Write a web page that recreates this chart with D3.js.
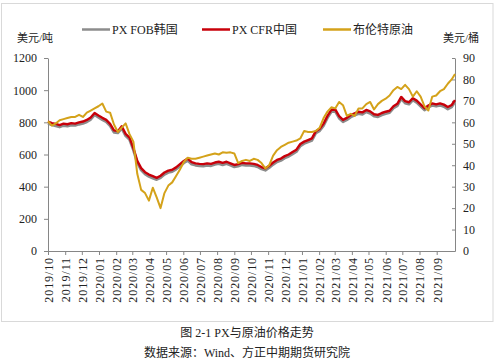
<!DOCTYPE html>
<html><head><meta charset="utf-8">
<script src="https://cdn.jsdelivr.net/npm/d3@7"></script>
<style>
html,body{margin:0;padding:0;background:#fff;}
svg{display:block;}
</style></head>
<body>
<svg id="chart" width="500" height="364"></svg>
<script>
// ---- data (weekly samples from 2019-10-01, plus final point 2021-10-04) ----
const startDate = "2019-10-01";
const endDate = "2021-10-04";
const seriesNames = ["PX FOB韩国", "PX CFR中国", "布伦特原油"];
const pxCFR = [805,795,790,783,792,788,795,792,800,805,
  815,830,858,842,828,815,790,750,745,775,
  728,705,640,560,515,490,475,465,455,468,
  488,500,505,520,540,560,575,552,545,542,
  540,545,542,550,555,548,555,545,535,540,
  548,545,545,542,535,522,514,530,550,566,
  575,590,600,615,630,665,680,690,700,745,
  760,792,840,878,880,838,815,828,845,856,
  866,862,877,868,850,846,858,866,872,900,
  915,958,932,925,950,935,912,888,905,918,
  912,918,910,895,908,938];
const pxFOB = [793,784,778,771,780,777,783,781,788,793,
  803,818,846,831,816,803,778,738,734,763,
  716,693,628,549,503,478,463,453,444,456,
  476,488,494,508,528,548,563,540,533,530,
  528,533,530,538,543,536,543,533,523,528,
  536,533,533,530,523,510,502,518,538,554,
  563,578,588,603,618,653,668,678,688,733,
  748,780,828,866,868,826,803,816,833,844,
  854,850,865,856,838,834,846,854,860,888,
  903,946,920,913,938,923,900,876,893,906,
  900,906,898,883,896,926];
const brent = [60.5,58.5,59.5,61,61.5,62,62.5,62.5,63.5,62.5,
  64.5,65.5,66.5,67.5,68.8,65,64.5,59,55.5,57.5,
  59.5,54.5,51,36,28.5,27,23.5,29.5,25,20,
  27,30.5,32,35,38,41.5,43.5,43,43,43.5,
  44,44.5,45,45.5,45,46,45.8,46,45.5,41,
  42,42.5,42,43,42.5,41,38.5,40,44.5,47,
  48.5,49.5,50.5,51,51.5,52.5,56,55.5,55.5,56,
  57.5,62,65,67,66.5,69.5,68,63,64,63,
  66.5,66.5,68.5,69.5,66,68.5,70,71,72.5,75,
  76.5,75.5,77.5,75.5,72,74.5,72,67.5,65.5,72,
  72.5,74.5,75.5,78,80,82.5];
const leftTicks = [0,200,400,600,800,1000,1200];
const rightTicks = [0,10,20,30,40,50,60,70,80,90];
const leftUnit = "美元/吨";
const rightUnit = "美元/桶";
const captionTitle = "图 2-1 PX与原油价格走势";
const captionSource = "数据来源：Wind、方正中期期货研究院";
const colors = ["#8c8c8c", "#c8000a", "#d4a21a"];

// ---- build dates ----
const t0 = d3.timeParse("%Y-%m-%d")(startDate);
const t1 = d3.timeParse("%Y-%m-%d")(endDate);
const dates = pxCFR.map((d, i) => i < pxCFR.length - 1 ? d3.timeDay.offset(t0, 7 * i) : t1);

const svg = d3.select("#chart");
const serif = "'Liberation Serif','Times New Roman','Noto Sans CJK SC',serif";

// outer frame
svg.append("rect").attr("x", 1.5).attr("y", 3.5).attr("width", 491.5).attr("height", 318)
  .attr("fill", "#fff").attr("stroke", "#d9d9d9").attr("stroke-width", 1);

const x = d3.scaleTime().domain([t0, t1]).range([48, 455]);
const yL = d3.scaleLinear().domain([0, 1200]).range([251, 58]);
const yR = d3.scaleLinear().domain([0, 90]).range([251, 58]);

// left axis
const gL = svg.append("g").attr("transform", "translate(48,0)")
  .call(d3.axisLeft(yL).tickValues(leftTicks).tickFormat(d3.format("d")).tickSize(4).tickPadding(7).tickSizeOuter(0));
// right axis (ticks inward)
const gR = svg.append("g").attr("transform", "translate(455,0)")
  .call(d3.axisLeft(yR).tickValues(rightTicks).tickFormat(d3.format("d")).tickSize(3).tickSizeOuter(0));
gR.selectAll(".tick text").attr("x", 8).attr("text-anchor", "start");
// bottom axis
const months = d3.timeMonth.range(t0, d3.timeDay.offset(d3.timeParse("%Y-%m-%d")("2021-09-01"), 1));
const gB = svg.append("g").attr("transform", "translate(0,251)")
  .call(d3.axisBottom(x).tickValues(months).tickFormat(d3.timeFormat("%Y/%m")).tickSize(4).tickSizeOuter(0));
gB.selectAll(".tick text")
  .attr("transform", "rotate(-90)")
  .attr("text-anchor", "end")
  .attr("x", -6).attr("y", 0).attr("dy", "0.36em")
  .style("letter-spacing", "0.9px");

[gL, gR, gB].forEach(g => {
  g.selectAll(".domain").attr("stroke", "#868686");
  g.selectAll(".tick line").attr("stroke", "#868686");
  g.selectAll(".tick text").attr("fill", "#222").style("font-family", serif).style("font-size", "12px");
});

// lines
const lineL = d3.line().x((d, i) => x(dates[i])).y(d => yL(d));
const lineR = d3.line().x((d, i) => x(dates[i])).y(d => yR(d));
svg.append("path").datum(pxFOB).attr("d", lineL).attr("fill", "none")
  .attr("stroke", colors[0]).attr("stroke-width", 2.8).attr("stroke-linejoin", "round");
svg.append("path").datum(pxCFR).attr("d", lineL).attr("fill", "none")
  .attr("stroke", colors[1]).attr("stroke-width", 2.4).attr("stroke-linejoin", "round");
svg.append("path").datum(brent).attr("d", lineR).attr("fill", "none")
  .attr("stroke", colors[2]).attr("stroke-width", 2).attr("stroke-linejoin", "round");

// units
svg.append("text").attr("x", 17).attr("y", 42).text(leftUnit)
  .style("font-family", serif).style("font-size", "11px").attr("fill", "#222");
svg.append("text").attr("x", 443).attr("y", 42).text(rightUnit)
  .style("font-family", serif).style("font-size", "11px").attr("fill", "#222");

// legend
const legendX = [82, 202, 323];
seriesNames.forEach((name, i) => {
  svg.append("line").attr("x1", legendX[i]).attr("x2", legendX[i] + 28)
    .attr("y1", 29.5).attr("y2", 29.5).attr("stroke", colors[i]).attr("stroke-width", 2.5);
  svg.append("text").attr("x", legendX[i] + 30).attr("y", 34).text(name)
    .style("font-family", serif).style("font-size", "12px").attr("fill", "#222");
});

// caption
svg.append("text").attr("x", 247).attr("y", 337).attr("text-anchor", "middle").text(captionTitle)
  .style("font-family", serif).style("font-size", "12px").attr("fill", "#222");
svg.append("text").attr("x", 247).attr("y", 357).attr("text-anchor", "middle").text(captionSource)
  .style("font-family", serif).style("font-size", "12px").attr("fill", "#222");
</script>
</body></html>
